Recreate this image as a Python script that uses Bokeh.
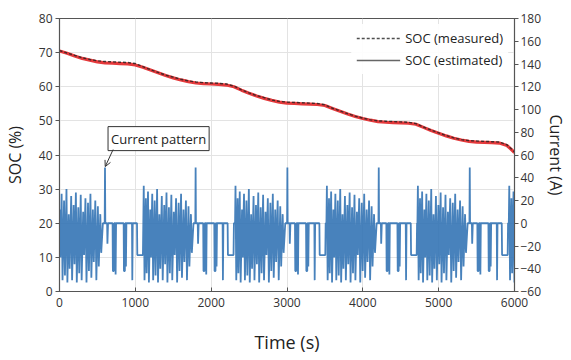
from bokeh.plotting import figure
from bokeh.models import (Range1d, LinearAxis, FixedTicker, Legend, LegendItem,
                          Label, Arrow, OpenHead)
from bokeh.embed import file_html
from bokeh.resources import INLINE

# ---------------- data ----------------
soc_t = [0, 100, 200, 300, 400, 500, 600, 700, 800, 900, 1000, 1100, 1200, 1300, 1400,
         1500, 1600, 1700, 1800, 1900, 2000, 2100, 2200, 2300, 2400, 2500, 2600, 2700,
         2800, 2900, 3000, 3100, 3200, 3300, 3400, 3500, 3600, 3700, 3800, 3900, 4000,
         4100, 4200, 4300, 4400, 4500, 4600, 4700, 4800, 4900, 5000, 5100, 5200, 5300,
         5400, 5500, 5600, 5700, 5800, 5900, 5950, 6000]
soc_measured = [70.6, 69.9, 69.2, 68.5, 68.0, 67.6, 67.4, 67.3, 67.2, 67.1, 66.8, 65.9,
                65.0, 64.2, 63.4, 62.8, 62.2, 61.7, 61.4, 61.2, 61.1, 61.0, 60.8, 60.2,
                59.1, 58.2, 57.4, 56.8, 56.1, 55.7, 55.5, 55.4, 55.3, 55.2, 55.1, 54.7,
                53.7, 52.9, 52.1, 51.4, 50.8, 50.3, 50.0, 49.9, 49.8, 49.7, 49.6, 49.2,
                48.2, 47.3, 46.5, 45.7, 45.0, 44.5, 44.2, 44.1, 44.0, 43.9, 43.8, 43.0,
                42.0, 40.9]
soc_estimated = [70.5, 69.8, 69.0, 68.3, 67.8, 67.3, 67.0, 66.9, 66.8, 66.7, 66.4, 65.7,
                 64.9, 64.1, 63.3, 62.6, 62.0, 61.5, 61.1, 60.9, 60.8, 60.7, 60.5, 60.0,
                 59.0, 58.1, 57.3, 56.6, 56.0, 55.5, 55.2, 55.1, 55.0, 54.9, 54.8, 54.5,
                 53.6, 52.8, 52.0, 51.3, 50.7, 50.2, 49.8, 49.6, 49.5, 49.4, 49.3, 49.0,
                 48.1, 47.2, 46.4, 45.6, 44.9, 44.4, 44.0, 43.8, 43.7, 43.6, 43.5, 42.8,
                 41.8, 40.7]

# one drive cycle of the current pattern (seconds from cycle start, A)
cycle_t = [0, 6, 16, 34, 44, 62, 74, 92, 102, 118, 130, 150, 162, 182, 194, 212, 224,
           244, 256, 276, 288, 306, 318, 338, 350, 370, 382, 402, 414, 432, 446, 466,
           478, 498, 510, 530, 542, 562, 576, 596, 608, 628, 640, 662, 686, 690, 694,
           718, 722, 730, 790, 794, 806, 810, 826, 830, 836, 936, 940, 952, 956, 962,
           966, 972, 1046, 1050, 1056, 1112, 1116, 1190, 1195]
cycle_amp = [0, 33, -50, 22, -44, 28, -52, 12, -30, 26, -50, 20, -46, 30, -52, 8, -40,
             24, -50, 16, -36, 27, -52, 14, -44, 25, -50, 10, -28, 22, -52, 18,
             -42, 26, -48, 12, -34, 20, -50, 15, -38, 8, -26, 0, 0, 49, 0,
             0, -18, 0, 0, -42, -42, 0, 0, -45, 0, 0, -42, -42, 0, 0,
             -38, 0, 0, -50, 0, 0, -28, -28, 0]
cycle_starts = [-90, 1105, 2315, 3520, 4720, 5925]

soc_ticks = [0, 10, 20, 30, 40, 50, 60, 70, 80]
cur_ticks = [-60, -40, -20, 0, 20, 40, 60, 80, 100, 120, 140, 160, 180]
time_ticks = [0, 1000, 2000, 3000, 4000, 5000, 6000]

# build full current series from the repeated cycle
cur_t, cur_a = [], []
for s in cycle_starts:
    for rt, a in zip(cycle_t, cycle_amp):
        t = s + rt
        if 0 <= t <= 6000:
            cur_t.append(t)
            cur_a.append(a)

FONT = "Open Sans"
TXT = "#222222"

p = figure(width=570, height=358, output_backend="svg", toolbar_location=None,
           x_range=Range1d(0, 6000), y_range=Range1d(0, 80),
           min_border_left=58, min_border_right=54, min_border_top=18,
           min_border_bottom=67)
p.extra_y_ranges = {"cur": Range1d(-60, 180)}
p.outline_line_color = "#555555"
p.outline_line_width = 1.2
p.background_fill_color = "white"

# grid
p.xgrid.ticker = FixedTicker(ticks=time_ticks)
p.ygrid.ticker = FixedTicker(ticks=soc_ticks)
p.xgrid.grid_line_color = "#e3e3e3"
p.ygrid.grid_line_color = "#e3e3e3"

# axes
p.xaxis.ticker = FixedTicker(ticks=time_ticks)
p.yaxis.ticker = FixedTicker(ticks=soc_ticks)
p.xaxis.axis_label = "Time (s)"
p.yaxis.axis_label = "SOC (%)"
for ax in (p.xaxis[0], p.yaxis[0]):
    ax.axis_line_color = "#555555"
    ax.major_tick_line_color = "#555555"
    ax.minor_tick_line_color = None
    ax.major_label_text_font = FONT
    ax.major_label_text_font_size = "12px"
    ax.major_label_text_color = "#333333"
    ax.axis_label_text_font = FONT
    ax.axis_label_text_font_style = "normal"
    ax.axis_label_text_color = TXT
p.xaxis.major_tick_in = 4
p.xaxis.major_tick_out = 0
p.xaxis.major_label_standoff = 6
p.xaxis.axis_label_text_font_size = "18px"
p.xaxis.axis_label_standoff = 20
p.yaxis.major_tick_in = 0
p.yaxis.major_tick_out = 4
p.yaxis.major_label_standoff = 3
p.yaxis.axis_label_text_font_size = "16px"
p.yaxis.axis_label_standoff = 10

rax = LinearAxis(y_range_name="cur", ticker=FixedTicker(ticks=cur_ticks),
                 axis_label="Current (A)")
rax.major_label_overrides = {v: ("\u2212" + str(-v)) for v in cur_ticks if v < 0}
rax.axis_line_color = "#555555"
rax.major_tick_line_color = "#555555"
rax.minor_tick_line_color = None
rax.major_tick_in = 0
rax.major_tick_out = 4
rax.major_label_standoff = 2
rax.major_label_text_font = FONT
rax.major_label_text_font_size = "12px"
rax.major_label_text_color = "#333333"
rax.axis_label_text_font = FONT
rax.axis_label_text_font_style = "normal"
rax.axis_label_text_font_size = "16px"
rax.axis_label_text_color = TXT
rax.axis_label_standoff = 1
p.add_layout(rax, "right")

# lines
p.line(cur_t, cur_a, y_range_name="cur", line_color="#2f71b3", line_width=1.8,
       line_alpha=0.88)
r_est = p.line(soc_t, soc_estimated, line_color="#666666", line_width=1.6)
p.line(soc_t, soc_estimated, line_color="#e5393b", line_width=3.2)
r_meas = p.line(soc_t, soc_measured, line_color="#222222", line_width=1.4,
                line_dash="3 2", line_alpha=0.8)

legend = Legend(items=[LegendItem(label="SOC (measured)", renderers=[r_meas]),
                       LegendItem(label="SOC (estimated)", renderers=[r_est])],
                location="top_right")
legend.label_text_font = FONT
legend.label_text_font_size = "13px"
legend.label_text_color = TXT
legend.glyph_width = 44
legend.glyph_height = 14
legend.spacing = 4
legend.padding = 5
legend.margin = 6
legend.label_standoff = 5
legend.border_line_alpha = 0
legend.background_fill_alpha = 0.9
p.add_layout(legend)

# annotation
lab = Label(x=640, y=44.8, text="Current pattern", text_font=FONT,
            text_font_size="13px", text_color=TXT, text_align="left",
            text_baseline="middle", padding=3, border_line_color="#333333",
            border_line_width=1, background_fill_color="white")
p.add_layout(lab)
p.add_layout(Arrow(end=OpenHead(size=6, line_width=1, line_color="#333333"),
                   x_start=707, y_start=41.6, x_end=603, y_end=36.6,
                   line_width=1, line_color="#333333"))

open("out.html", "w").write(file_html(p, INLINE))
